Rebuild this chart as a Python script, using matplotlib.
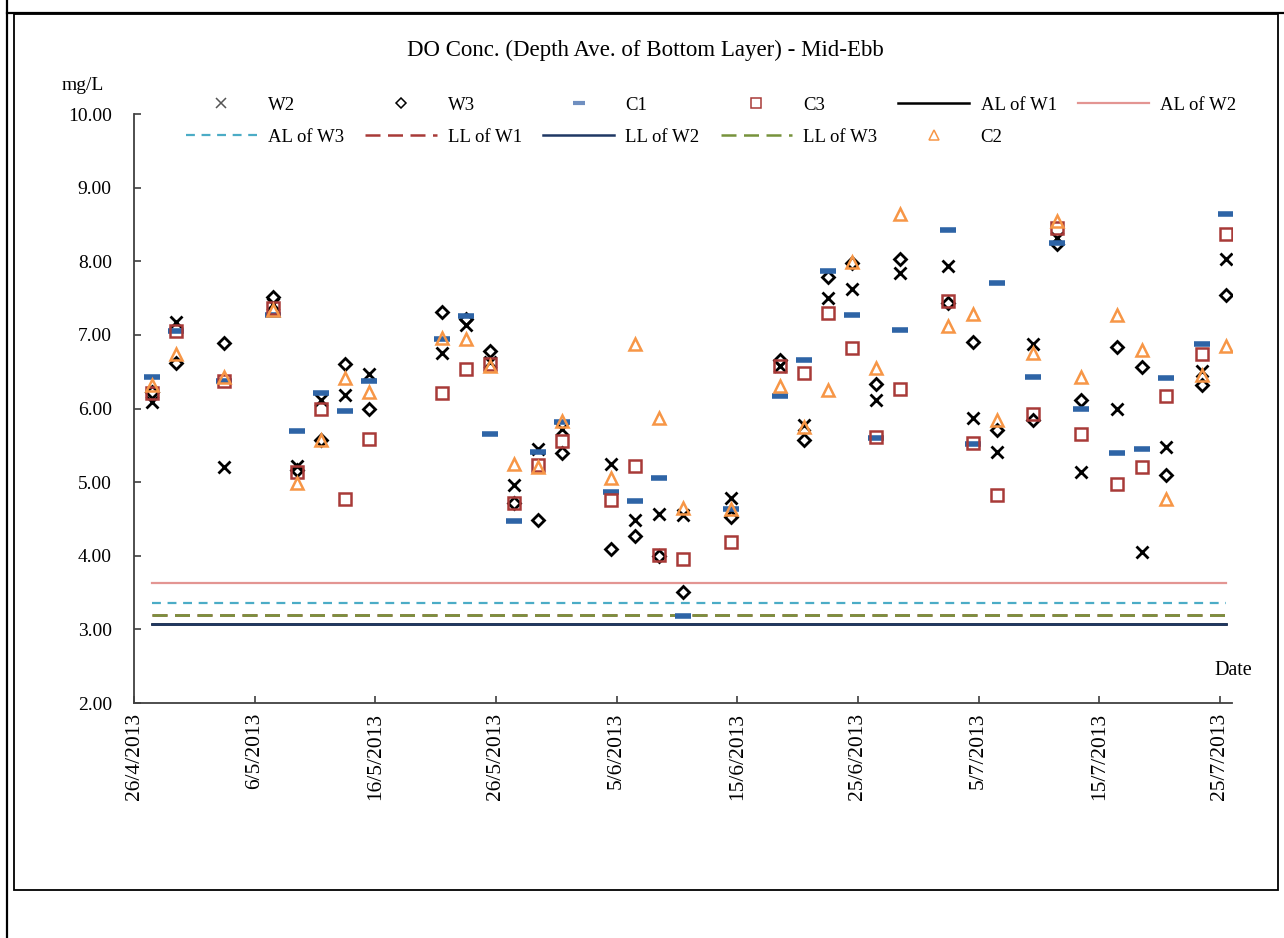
import matplotlib
matplotlib.use('Agg')
import matplotlib.pyplot as plt
import matplotlib.dates as mdates
from matplotlib.lines import Line2D
from matplotlib.patches import Rectangle
from matplotlib.ticker import FuncFormatter, FormatStrFormatter
import numpy as np
import pandas as pd

# sampling dates (bottom layer, mid-ebb)
dates = ['27/4/2013', '29/4/2013', '3/5/2013', '7/5/2013', '9/5/2013', '11/5/2013',
         '13/5/2013', '15/5/2013', '21/5/2013', '23/5/2013', '25/5/2013', '27/5/2013',
         '29/5/2013', '31/5/2013', '4/6/2013', '6/6/2013', '8/6/2013', '10/6/2013',
         '14/6/2013', '18/6/2013', '20/6/2013', '22/6/2013', '24/6/2013', '26/6/2013',
         '28/6/2013', '2/7/2013', '4/7/2013', '6/7/2013', '9/7/2013', '11/7/2013',
         '13/7/2013', '16/7/2013', '18/7/2013', '20/7/2013', '23/7/2013', '25/7/2013']

w2 = [6.09, 7.17, 5.21, 7.42, 5.22, 6.12, 6.19, 6.47, 6.76, 7.13, 6.63, 4.96,
      5.45, 5.72, 5.24, 4.49, 4.57, 4.55, 4.78, 6.58, 5.77, 7.50, 7.62, 6.11,
      7.84, 7.94, 5.87, 5.41, 6.88, 8.32, 5.14, 5.99, 4.05, 5.48, 6.51, 8.03]
w3 = [6.22, 6.62, 6.89, 7.52, 5.17, 5.57, 6.61, 5.99, 7.31, 7.22, 6.78, 4.72,
      4.49, 5.40, 4.09, 4.27, 4.00, 3.51, 4.53, 6.66, 5.57, 7.78, 7.98, 6.33,
      8.03, 7.43, 6.90, 5.71, 5.84, 8.23, 6.11, 6.83, 6.57, 5.09, 6.32, 7.54]
c1 = [6.43, 7.05, 6.38, 7.27, 5.69, 6.21, 5.96, 6.37, 6.95, 7.26, 5.65, 4.47,
      5.41, 5.82, 4.87, 4.74, 5.06, 3.18, 4.64, 6.17, 6.66, 7.87, 7.27, 5.60,
      7.07, 8.42, 5.52, 7.71, 6.43, 8.25, 6.00, 5.40, 5.45, 6.41, 6.88, 8.64]
c3 = [6.21, 7.05, 6.38, 7.36, 5.14, 6.00, 4.77, 5.58, 6.21, 6.53, 6.60, 4.72,
      5.23, 5.56, 4.76, 5.22, 4.01, 3.96, 4.18, 6.58, 6.48, 7.30, 6.82, 5.61,
      6.26, 7.46, 5.53, 4.83, 5.92, 8.45, 5.65, 4.97, 5.21, 6.17, 6.74, 8.37]
c2 = [6.32, 6.74, 6.43, 7.34, 4.99, 5.57, 6.41, 6.23, 6.96, 6.95, 6.58, 5.24,
      5.21, 5.83, 5.06, 6.88, 5.87, 4.65, 4.63, 6.31, 5.75, 6.25, 7.99, 6.55,
      8.64, 7.12, 7.28, 5.85, 6.75, 8.55, 6.43, 7.27, 6.79, 4.77, 6.45, 6.85]

# action / limit levels
al_w1 = 3.07
al_w2 = 3.63
al_w3 = 3.36
ll_w1 = 3.19
ll_w2 = 3.07
ll_w3 = 3.19

tick_dates = pd.date_range('2013-04-26', '2013-07-25', freq='10D')

plt.rcParams['font.family'] = ['Liberation Serif', 'DejaVu Serif']

W, H = 1284, 938
fig = plt.figure(figsize=(W / 100, H / 100), dpi=100)

# page / frame lines
fig.add_artist(Line2D([7 / W, 7 / W], [0, 1], transform=fig.transFigure, color='black', lw=1.6))
fig.add_artist(Line2D([7 / W, 1], [1 - 13 / H, 1 - 13 / H], transform=fig.transFigure, color='black', lw=1.6))
fig.add_artist(Rectangle((14 / W, 1 - 890 / H), (1278 - 14) / W, (890 - 14) / H,
                         transform=fig.transFigure, fill=False, ec='black', lw=1.3))

ax = fig.add_axes([134 / W, 1 - 703 / H, (1232 - 134) / W, (703 - 114) / H])

# points sit in the middle of the day (Excel date axis)
x = pd.to_datetime(dates, format='%d/%m/%Y') + pd.Timedelta(hours=12)
ones = np.ones(len(x))

h = {}
h['W2'], = ax.plot(x, w2, ls='none', marker='x', ms=8, mew=2, color='black', zorder=5)
h['W3'], = ax.plot(x, w3, ls='none', marker='D', ms=6.5, mew=2, mfc='none', mec='black', zorder=5)
h['C1'], = ax.plot(x, c1, ls='none', marker='_', ms=11, mew=4, color='#2E64A6', zorder=5)
h['C3'], = ax.plot(x, c3, ls='none', marker='s', ms=9, mew=1.8, mfc='none', mec='#A83A38', zorder=5)

h['AL of W1'], = ax.plot(x, ones * al_w1, color='black', lw=1.8, zorder=3)
h['AL of W2'], = ax.plot(x, ones * al_w2, color='#E39592', lw=1.6, zorder=3)
h['AL of W3'], = ax.plot(x, ones * al_w3, color='#4BACC6', lw=1.6, ls=(0, (4, 3)), zorder=3)
h['LL of W1'], = ax.plot(x, ones * ll_w1, color='#A83A38', lw=1.8, ls=(0, (6, 3)), zorder=3)
h['LL of W2'], = ax.plot(x, ones * ll_w2, color='#1F3864', lw=1.8, zorder=3)
h['LL of W3'], = ax.plot(x, ones * ll_w3, color='#77933C', lw=1.8, ls=(0, (6, 3)), zorder=3)

h['C2'], = ax.plot(x, c2, ls='none', marker='^', ms=9, mew=1.8, mfc='none', mec='#F79646', zorder=6)

ax.set_xlim(pd.Timestamp('2013-04-26'), pd.Timestamp('2013-07-26'))
ax.set_ylim(2, 10)
ax.set_yticks(np.arange(2, 10.01, 1))
ax.yaxis.set_major_formatter(FormatStrFormatter('%.2f'))
ax.set_xticks(tick_dates)
ax.xaxis.set_major_formatter(FuncFormatter(
    lambda v, p: '{d.day}/{d.month}/{d.year}'.format(d=mdates.num2date(v))))

for s in ['top', 'right']:
    ax.spines[s].set_visible(False)
for s in ['left', 'bottom']:
    ax.spines[s].set_color('#404040')
    ax.spines[s].set_linewidth(1.3)
ax.tick_params(direction='in', length=5, width=1.2, color='#404040', labelsize=14)
ax.tick_params(axis='y', pad=16)
ax.tick_params(axis='x', pad=7, labelrotation=90, labelsize=15.5)

fig.text(645 / W, 1 - 50 / H, 'DO Conc. (Depth Ave. of Bottom Layer) - Mid-Ebb',
         ha='center', va='center', fontsize=16.5)
fig.text(62 / W, 1 - 86 / H, 'mg/L', ha='left', va='center', fontsize=14)
fig.text(1252 / W, 1 - 670 / H, 'Date', ha='right', va='center', fontsize=14.5)

# legend is column-filled, so interleave the two rows
order = ['W2', 'AL of W3', 'W3', 'LL of W1', 'C1', 'LL of W2',
         'C3', 'LL of W3', 'AL of W1', 'C2', 'AL of W2']
leg = fig.legend([h[k] for k in order], order, ncol=6, loc='center',
                 bbox_to_anchor=(711 / W, 1 - 121 / H), frameon=False, fontsize=13.5,
                 handlelength=3.8, handletextpad=0.6, columnspacing=1.12,
                 labelspacing=0.8, markerscale=0.85)
# thinner markers in the legend, like the original
for lh, k in zip(leg.legend_handles, order):
    if k in ('W2', 'W3', 'C3', 'C2'):
        lh.set_markeredgewidth(1.1)
    if k == 'W2':
        lh.set_color('#555555')
    if k == 'C1':
        lh.set_markeredgewidth(3)
        lh.set_markersize(8)
        lh.set_color('#6F8FC0')

fig.savefig('out.png', dpi=100)
